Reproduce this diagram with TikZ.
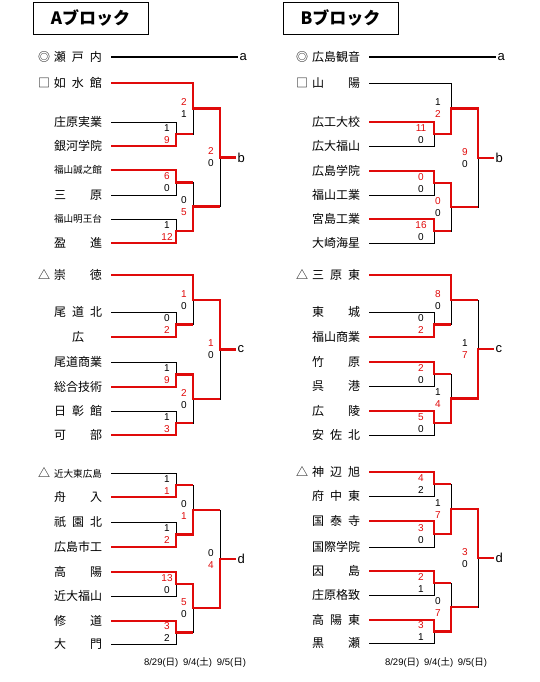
\documentclass[tikz,border=0pt]{standalone}
\usepackage{fontspec}
\setmainfont{Liberation Sans}
\newfontfamily\jp{Noto Sans CJK JP}
\usepackage{xcolor}
\usetikzlibrary{calc}
\definecolor{winred}{HTML}{E00A0A}
\pgfdeclarelayer{back}
\pgfsetlayers{back,main}
\tikzstyle{team} = [anchor=west, inner sep=0pt, outer xsep=9pt,
                    font=\jp\fontsize{12}{14}\selectfont]
\tikzstyle{lose} = [draw=black, line width=0.9pt]
\tikzstyle{win} = [draw=winred, line width=2.1pt]
\tikzstyle{score} = [inner sep=0pt, font=\fontsize{10}{11}\selectfont]
\tikzstyle{hi} = [text=winred]
\tikzstyle{tag} = [anchor=west, inner sep=1.5pt, font=\fontsize{13}{15}\selectfont]
\tikzstyle{title} = [draw=black, line width=0.8pt, minimum width=115pt,
                     minimum height=32pt, font=\jp\bfseries\fontsize{17}{20}\selectfont]
\tikzstyle{date} = [inner sep=0pt, font=\fontsize{9.5}{11}\selectfont]
% name box, seed mark, small names
\newcommand{\tm}[1]{\makebox[48pt][s]{#1}}
\newcommand{\mk}[1]{\llap{#1\hspace{4pt}}}
\newcommand{\five}[1]{{\fontsize{9.6}{11}\selectfont#1}}
% one game: name, x, y, top, bottom, top score, bottom score, winner t/b, next x
\newcommand{\bout}[9]{%
  \coordinate (#1) at (#2,#3);
  \coordinate (#1o) at (#9,#3);
  \begin{pgfonlayer}{back}
    \draw[lose] (#4) -| (#1);
    \draw[lose] (#5) -| (#1);
  \end{pgfonlayer}
  \if#8t
    \draw[win] (#4) -| (#1) -- (#1o);
    \node[score, hi] (#1t) at ([xshift=-\sdx, yshift=6pt]#1) {#6};
    \node[score] (#1b) at ([xshift=-\sdx, yshift=-6pt]#1) {#7};
  \else
    \draw[win] (#5) -| (#1) -- (#1o);
    \node[score] (#1t) at ([xshift=-\sdx, yshift=6pt]#1) {#6};
    \node[score, hi] (#1b) at ([xshift=-\sdx, yshift=-6pt]#1) {#7};
  \fi}

\begin{document}
\begin{tikzpicture}[x=1pt, y=-1pt]
\useasboundingbox (0,0) rectangle (540,682);

\node[title] (titleA) at (90.5,18) {Aブロック};
\node[title] (titleB) at (340.5,18) {Bブロック};

% ---- A block
\begin{scope}
\def\sdx{9pt}
\node[team] (setouchi) at (45,57) {\mk{◎}\tm{瀬\hfill 戸\hfill 内}};
\node[tag] (lAa) at (238,57) {a};
\draw[lose, line width=1.8pt] (setouchi) -- (lAa);

\node[team] (josui) at (45,83) {\mk{□}\tm{如\hfill 水\hfill 館}};
\node[team] (shobara) at (45,122) {\tm{庄原実業}};
\node[team] (ginga) at (45,146) {\tm{銀河学院}};
\node[team] (seishi) at (45,170) {\tm{\five{福山誠之館}}};
\node[team] (mihara) at (45,195) {\tm{三\hfill 原}};
\node[team] (meio) at (45,219) {\tm{\five{福山明王台}}};
\node[team] (eishin) at (45,243) {\tm{盈\hfill 進}};

\bout{A1}{176}{134}{shobara}{ginga}{1}{9}{b}{193}
\bout{A2}{193}{108.5}{josui}{A1}{2}{1}{t}{220}
\bout{A3}{176}{182.5}{seishi}{mihara}{6}{0}{t}{193}
\bout{A4}{176}{231}{meio}{eishin}{1}{12}{b}{193}
\bout{A5}{193}{206.5}{A3}{A4}{0}{5}{b}{220}
\bout{A6}{220}{157.5}{A2}{A5}{2}{0}{t}{236}
\node[tag] (lAb) at (A6o) {b};

\node[team] (sotoku) at (45,275) {\mk{△}\tm{崇\hfill 徳}};
\node[team] (onokita) at (45,312) {\tm{尾\hfill 道\hfill 北}};
\node[team] (hiro) at (45,337) {\tm{\hfill 広\hfill}};
\node[team] (onosho) at (45,362) {\tm{尾道商業}};
\node[team] (sogo) at (45,387) {\tm{総合技術}};
\node[team] (nissho) at (45,411) {\tm{日\hfill 彰\hfill 館}};
\node[team] (kabe) at (45,435) {\tm{可\hfill 部}};

\bout{A7}{176}{324.5}{onokita}{hiro}{0}{2}{b}{193}
\bout{A8}{193}{300}{sotoku}{A7}{1}{0}{t}{220}
\bout{A9}{176}{374.5}{onosho}{sogo}{1}{9}{b}{193}
\bout{A10}{176}{423}{nissho}{kabe}{1}{3}{b}{193}
\bout{A11}{193}{399}{A9}{A10}{2}{0}{t}{220}
\bout{A12}{220}{349.5}{A8}{A11}{1}{0}{t}{236}
\node[tag] (lAc) at (A12o) {c};

\node[team] (kinhh) at (45,473) {\mk{△}\tm{\five{近大東広島}}};
\node[team] (funairi) at (45,497) {\tm{舟\hfill 入}};
\node[team] (gion) at (45,522) {\tm{祇\hfill 園\hfill 北}};
\node[team] (ichiko) at (45,547) {\tm{広島市工}};
\node[team] (koyo) at (45,572) {\tm{高\hfill 陽}};
\node[team] (kinfk) at (45,596) {\tm{近大福山}};
\node[team] (shudo) at (45,621) {\tm{修\hfill 道}};
\node[team] (daimon) at (45,644) {\tm{大\hfill 門}};

\bout{A13}{176}{485}{kinhh}{funairi}{1}{1}{b}{193}
\bout{A14}{176}{534.5}{gion}{ichiko}{1}{2}{b}{193}
\bout{A15}{193}{510}{A13}{A14}{0}{1}{b}{220}
\bout{A16}{176}{584}{koyo}{kinfk}{13}{0}{t}{193}
\bout{A17}{176}{632.5}{shudo}{daimon}{3}{2}{t}{193}
\bout{A18}{193}{608}{A16}{A17}{5}{0}{t}{220}
\bout{A19}{220}{559}{A15}{A18}{0}{4}{b}{236}
\node[tag] (lAd) at (A19o) {d};

\node[date] (dateA) at (195,662) {8/29({\jp 日})\enspace 9/4({\jp 土})\enspace 9/5({\jp 日})};
\end{scope}

% ---- B block
\begin{scope}[xshift=258pt]
\def\sdx{13pt}
\node[team] (kannon) at (45,57) {\mk{◎}\tm{広島観音}};
\node[tag] (lBa) at (238,57) {a};
\draw[lose, line width=1.8pt] (kannon) -- (lBa);

\node[team] (sanyo) at (45,83) {\mk{□}\tm{山\hfill 陽}};
\node[team] (kodai) at (45,122) {\tm{広工大校}};
\node[team] (hirodai) at (45,146) {\tm{広大福山}};
\node[team] (hgakuin) at (45,171) {\tm{広島学院}};
\node[team] (fkogyo) at (45,195) {\tm{福山工業}};
\node[team] (miyajima) at (45,219) {\tm{宮島工業}};
\node[team] (osaki) at (45,243) {\tm{大崎海星}};

\bout{B1}{176}{134}{kodai}{hirodai}{11}{0}{t}{193}
\bout{B2}{193}{108.5}{sanyo}{B1}{1}{2}{b}{220}
\bout{B3}{176}{183}{hgakuin}{fkogyo}{0}{0}{t}{193}
\bout{B4}{176}{231}{miyajima}{osaki}{16}{0}{t}{193}
\bout{B5}{193}{207}{B3}{B4}{0}{0}{t}{220}
\bout{B6}{220}{158}{B2}{B5}{9}{0}{t}{236}
\node[tag] (lBb) at (B6o) {b};

\node[team] (miharahi) at (45,275) {\mk{△}\tm{三\hfill 原\hfill 東}};
\node[team] (tojo) at (45,312) {\tm{東\hfill 城}};
\node[team] (fshogyo) at (45,337) {\tm{福山商業}};
\node[team] (takehara) at (45,362) {\tm{竹\hfill 原}};
\node[team] (kureko) at (45,386) {\tm{呉\hfill 港}};
\node[team] (koryo) at (45,411) {\tm{広\hfill 陵}};
\node[team] (asakita) at (45,435) {\tm{安\hfill 佐\hfill 北}};

\bout{B7}{176}{324.5}{tojo}{fshogyo}{0}{2}{b}{193}
\bout{B8}{193}{300}{miharahi}{B7}{8}{0}{t}{220}
\bout{B9}{176}{374}{takehara}{kureko}{2}{0}{t}{193}
\bout{B10}{176}{423}{koryo}{asakita}{5}{0}{t}{193}
\bout{B11}{193}{398.5}{B9}{B10}{1}{4}{b}{220}
\bout{B12}{220}{349}{B8}{B11}{1}{7}{b}{236}
\node[tag] (lBc) at (B12o) {c};

\node[team] (kannabe) at (45,472) {\mk{△}\tm{神\hfill 辺\hfill 旭}};
\node[team] (fuchuhi) at (45,496) {\tm{府\hfill 中\hfill 東}};
\node[team] (kokutai) at (45,521) {\tm{国\hfill 泰\hfill 寺}};
\node[team] (kokusai) at (45,547) {\tm{国際学院}};
\node[team] (innoshima) at (45,571) {\tm{因\hfill 島}};
\node[team] (kakuchi) at (45,595) {\tm{庄原格致}};
\node[team] (koyohi) at (45,620) {\tm{高\hfill 陽\hfill 東}};
\node[team] (kurose) at (45,643) {\tm{黒\hfill 瀬}};

\bout{B13}{176}{484}{kannabe}{fuchuhi}{4}{2}{t}{193}
\bout{B14}{176}{534}{kokutai}{kokusai}{3}{0}{t}{193}
\bout{B15}{193}{509}{B13}{B14}{1}{7}{b}{220}
\bout{B16}{176}{583}{innoshima}{kakuchi}{2}{1}{t}{193}
\bout{B17}{176}{631.5}{koyohi}{kurose}{3}{1}{t}{193}
\bout{B18}{193}{607}{B16}{B17}{0}{7}{b}{220}
\bout{B19}{220}{558}{B15}{B18}{3}{0}{t}{236}
\node[tag] (lBd) at (B19o) {d};

\node[date] (dateB) at (178,662) {8/29({\jp 日})\enspace 9/4({\jp 土})\enspace 9/5({\jp 日})};
\end{scope}
\end{tikzpicture}
\end{document}
